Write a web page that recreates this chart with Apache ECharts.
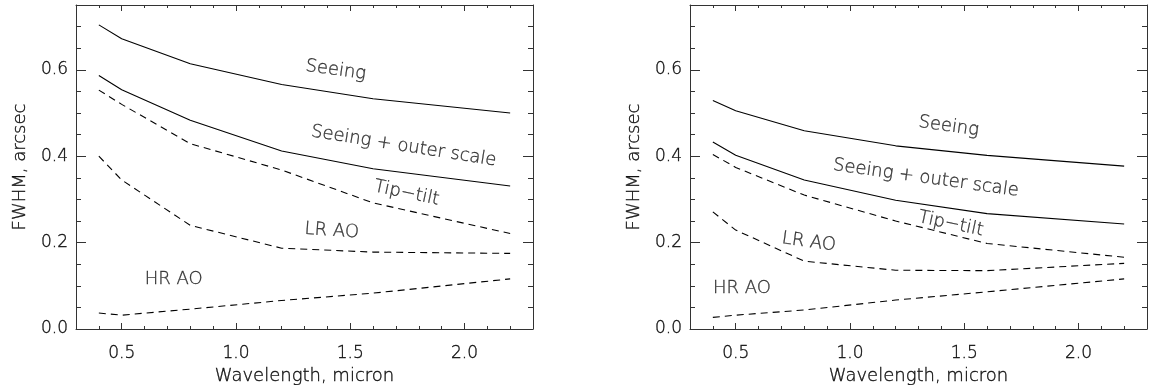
<!DOCTYPE html>
<html>
<head>
<meta charset="utf-8">
<script src="https://cdn.jsdelivr.net/npm/echarts@6/dist/echarts.min.js"></script>
<style>
html,body{margin:0;padding:0;background:#fff;}
#chart{width:1151px;height:385px;}
</style>
</head>
<body>
<div id="chart"></div>
<script>
// ---------------- data ----------------
const wavelength = [0.4, 0.5, 0.8, 1.2, 1.6, 2.2];

// Left panel
const leftSeeing      = [0.704, 0.672, 0.614, 0.566, 0.533, 0.500];
const leftSeeingOuter = [0.587, 0.554, 0.483, 0.412, 0.371, 0.331];
const leftTipTilt     = [0.553, 0.520, 0.429, 0.368, 0.292, 0.221];
const leftLRAO        = [0.400, 0.345, 0.240, 0.187, 0.178, 0.175];
const leftHRAO        = [0.037, 0.032, 0.046, 0.066, 0.083, 0.116];

// Right panel
const rightSeeing      = [0.529, 0.505, 0.459, 0.424, 0.402, 0.377];
const rightSeeingOuter = [0.433, 0.402, 0.345, 0.298, 0.267, 0.243];
const rightTipTilt     = [0.404, 0.374, 0.310, 0.250, 0.198, 0.166];
const rightLRAO        = [0.271, 0.229, 0.157, 0.136, 0.135, 0.152];
const rightHRAO        = [0.027, 0.032, 0.044, 0.067, 0.086, 0.116];

// Tick labels
const xMajorTicks = [0.5, 1.0, 1.5, 2.0];
const xMinorTicks = [0.4, 0.6, 0.7, 0.8, 0.9, 1.1, 1.2, 1.3, 1.4, 1.6, 1.7, 1.8, 1.9, 2.1, 2.2];
const yMajorTicks = [0.0, 0.2, 0.4, 0.6];
const yMinorTicks = [0.05, 0.1, 0.15, 0.25, 0.3, 0.35, 0.45, 0.5, 0.55, 0.65, 0.7];

const xTitle = 'Wavelength, micron';
const yTitle = 'FWHM, arcsec';

// Annotations (text, wavelength, FWHM, rotation in degrees)
const annText = ['Seeing', 'Seeing + outer scale', 'Tip\u2212tilt', 'LR AO', 'HR AO'];
const leftAnnX  = [1.437, 1.734, 1.747, 1.419, 0.728];
const leftAnnY  = [0.599, 0.423, 0.314, 0.227, 0.116];
const leftAnnRot  = [-8, -9, -12, -4, 0];
const rightAnnX = [1.432, 1.332, 1.441, 0.820, 0.527];
const rightAnnY = [0.469, 0.349, 0.243, 0.201, 0.093];
const rightAnnRot = [-8, -8, -12, -8, 0];

// ---------------- chart ----------------
const FONT = 'DejaVu Sans';
const FW = 300;
const FS_TICK = 17;
const FS_TEXT = 18;
const TXT = '#111';
const AX = '#333';
const txtStyle = (fs) => ({color: TXT, fontFamily: FONT, fontWeight: FW, fontSize: fs,
  textBorderColor: TXT, textBorderWidth: 0.35});

const grids = [
  {left: 76, top: 5, width: 457, height: 324, outerBoundsMode: 'none', containLabel: false},
  {left: 690, top: 5, width: 457, height: 324, outerBoundsMode: 'none', containLabel: false}
];

const xAxes = [], yAxes = [];
function makeX(gi, pos, ticks, len, showLine, withLabels) {
  const a = {
    type: 'value', gridIndex: gi, position: pos, min: 0.3, max: 2.3,
    axisLine: {show: showLine, onZero: false, lineStyle: {color: AX, width: 1}},
    axisTick: {show: true, inside: true, length: len, customValues: ticks, lineStyle: {color: AX, width: 1}},
    axisLabel: {show: false},
    splitLine: {show: false}
  };
  if (withLabels) {
    a.axisLabel = Object.assign({show: true, customValues: ticks, margin: 16,
      formatter: v => v.toFixed(1)}, txtStyle(FS_TICK));
    a.name = xTitle; a.nameLocation = 'middle'; a.nameGap = 38;
    a.nameTextStyle = txtStyle(FS_TEXT);
  }
  xAxes.push(a);
  return xAxes.length - 1;
}
function makeY(gi, pos, ticks, len, showLine, withLabels) {
  const a = {
    type: 'value', gridIndex: gi, position: pos, min: 0, max: 0.75,
    axisLine: {show: showLine, onZero: false, lineStyle: {color: AX, width: 1}},
    axisTick: {show: true, inside: true, length: len, customValues: ticks, lineStyle: {color: AX, width: 1}},
    axisLabel: {show: false},
    splitLine: {show: false}
  };
  if (withLabels) {
    a.axisLabel = Object.assign({show: true, customValues: ticks, margin: 8,
      formatter: v => v.toFixed(1)}, txtStyle(FS_TICK));
    a.name = yTitle; a.nameLocation = 'middle'; a.nameGap = 47; a.nameRotate = 90;
    a.nameTextStyle = txtStyle(FS_TEXT);
  }
  yAxes.push(a);
  return yAxes.length - 1;
}

const panels = [
  {series: [leftSeeing, leftSeeingOuter, leftTipTilt, leftLRAO, leftHRAO],
   annX: leftAnnX, annY: leftAnnY, annRot: leftAnnRot},
  {series: [rightSeeing, rightSeeingOuter, rightTipTilt, rightLRAO, rightHRAO],
   annX: rightAnnX, annY: rightAnnY, annRot: rightAnnRot}
];
const dashed = [false, false, true, true, true];

const series = [];
panels.forEach((p, gi) => {
  const xb = makeX(gi, 'bottom', xMajorTicks, 6, true, true);
  makeX(gi, 'bottom', xMinorTicks, 3, false, false);
  makeX(gi, 'top', xMajorTicks, 6, true, false);
  makeX(gi, 'top', xMinorTicks, 3, false, false);
  const yl = makeY(gi, 'left', yMajorTicks, 10, true, true);
  makeY(gi, 'left', yMinorTicks, 5, false, false);
  makeY(gi, 'right', yMajorTicks, 10, true, false);
  makeY(gi, 'right', yMinorTicks, 5, false, false);

  p.series.forEach((vals, si) => {
    series.push({
      type: 'line', xAxisIndex: xb, yAxisIndex: yl,
      data: wavelength.map((w, i) => [w, vals[i]]),
      showSymbol: false, symbol: 'none', silent: true, animation: false,
      lineStyle: {color: '#000', width: 1.1, type: dashed[si] ? [7, 5] : 'solid'}
    });
  });

  series.push({
    type: 'scatter', xAxisIndex: xb, yAxisIndex: yl, symbolSize: 0, silent: true, animation: false,
    data: annText.map((t, i) => ({
      name: t, value: [p.annX[i], p.annY[i]],
      label: {rotate: p.annRot[i]}
    })),
    label: Object.assign({show: true, position: 'inside', formatter: '{b}'}, txtStyle(FS_TEXT))
  });
});

const chart = echarts.init(document.getElementById('chart'), null, {renderer: 'canvas'});
chart.setOption({
  animation: false,
  backgroundColor: '#fff',
  grid: grids,
  xAxis: xAxes,
  yAxis: yAxes,
  series: series
});
</script>
</body>
</html>
